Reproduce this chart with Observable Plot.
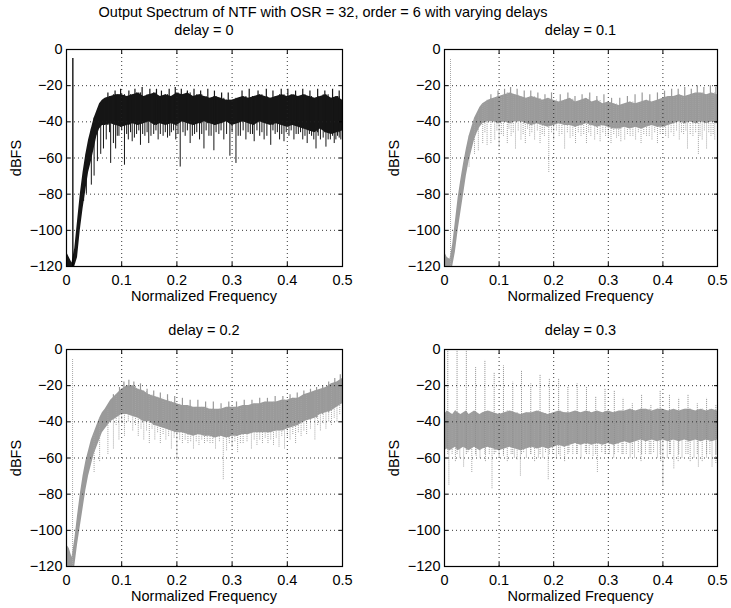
<!DOCTYPE html>
<html>
<head>
<meta charset="utf-8">
<script src="https://cdn.jsdelivr.net/npm/d3@7"></script>
<script src="https://cdn.jsdelivr.net/npm/@observablehq/plot@0.6"></script>
<style>
  html, body { margin: 0; padding: 0; background: #fff; }
  #wrap { position: relative; width: 731px; height: 608px; overflow: hidden; font-family: "Liberation Sans", Arial, sans-serif; color: #000; }
  .txt { position: absolute; white-space: nowrap; font-size: 14.5px; line-height: 16px; transform: translate(-50%, -50%); }
  .ttl { position: absolute; white-space: nowrap; font-size: 14.5px; line-height: 16px; transform: translate(-50%, -50%); }
  .ylab { position: absolute; white-space: nowrap; font-size: 14.5px; line-height: 16px; transform: translate(-50%, -50%) rotate(-90deg); }
  .panel { position: absolute; }
</style>
</head>
<body>
<div id="wrap"></div>
<script>
// ---------- data ----------
const mainTitle = "Output Spectrum of NTF with OSR = 32, order = 6 with varying delays";
const panelTitles = ["delay = 0", "delay = 0.1", "delay = 0.2", "delay = 0.3"];
const xLabel = "Normalized Frequency";
const yLabel = "dBFS";
const xTicks = [0, 0.1, 0.2, 0.3, 0.4, 0.5];
const yTicks = [-120, -100, -80, -60, -40, -20, 0];

const freq = [0, 0.005, 0.01, 0.015, 0.02, 0.025, 0.03, 0.035, 0.04, 0.045, 0.05, 0.055, 0.06, 0.065,
  0.07, 0.08, 0.09, 0.10, 0.11, 0.12, 0.13, 0.14, 0.15, 0.16, 0.17, 0.18, 0.19, 0.20, 0.21, 0.22, 0.23,
  0.24, 0.25, 0.26, 0.27, 0.28, 0.29, 0.30, 0.31, 0.32, 0.33, 0.34, 0.35, 0.36, 0.37, 0.38, 0.39, 0.40,
  0.41, 0.42, 0.43, 0.44, 0.45, 0.46, 0.47, 0.48, 0.49, 0.50];

// delay = 0
const top0 = [-112, -115, -118, -110, -95, -80, -68, -58, -50, -44, -38, -34, -30, -28,
  -27, -26, -25, -25, -26, -25, -24, -26, -25, -24, -26, -25, -26, -24, -25, -24, -26,
  -25, -26, -27, -26, -27, -28, -28, -27, -26, -27, -26, -25, -26, -27, -26, -25, -26,
  -25, -26, -25, -26, -27, -26, -25, -27, -26, -28];
const bot0 = [-120, -120, -120, -120, -115, -100, -88, -78, -68, -62, -55, -48, -44, -42,
  -42, -41, -42, -43, -42, -41, -42, -41, -40, -42, -41, -42, -41, -42, -40, -41, -42,
  -41, -40, -41, -42, -41, -40, -42, -41, -40, -41, -42, -40, -41, -42, -41, -42, -43,
  -42, -43, -44, -45, -46, -44, -46, -47, -46, -45];
const dipF0 = [0.031, 0.036, 0.045, 0.05, 0.056, 0.062, 0.067, 0.072, 0.08, 0.085, 0.089, 0.095, 0.105,
  0.112, 0.119, 0.127, 0.134, 0.142, 0.149, 0.158, 0.166, 0.175, 0.183, 0.19, 0.198, 0.206, 0.215,
  0.224, 0.232, 0.241, 0.249, 0.258, 0.267, 0.276, 0.285, 0.296, 0.307, 0.315, 0.325, 0.333, 0.34,
  0.35, 0.358, 0.37, 0.378, 0.386, 0.394, 0.403, 0.412, 0.42, 0.428, 0.436, 0.444, 0.452, 0.46,
  0.47, 0.478, 0.485, 0.491, 0.497,
  0.078, 0.092, 0.1, 0.109, 0.116, 0.123, 0.131, 0.138, 0.146, 0.153, 0.162, 0.17, 0.179, 0.187,
  0.194, 0.202, 0.211, 0.219, 0.228, 0.236, 0.245, 0.253, 0.262, 0.271, 0.28, 0.29, 0.3, 0.311,
  0.32, 0.329, 0.337, 0.345, 0.354, 0.363, 0.374, 0.382, 0.39, 0.398, 0.407, 0.416, 0.424, 0.432,
  0.44, 0.448, 0.456, 0.465, 0.474, 0.482, 0.488, 0.494];
const dipV0 = [-84, -80, -75, -70, -62, -58, -55, -50, -63, -52, -55, -48, -64,
  -50, -51, -47, -53, -48, -52, -47, -50, -48, -49, -46, -50, -65, -48,
  -52, -47, -50, -55, -48, -56, -47, -50, -59, -63, -48, -50, -47, -51,
  -48, -50, -53, -47, -50, -51, -48, -50, -47, -50, -52, -48, -55, -50,
  -54, -50, -52, -48, -50,
  -46, -48, -45, -47, -46, -49, -45, -47, -46, -48, -45, -47, -46, -48,
  -45, -47, -46, -45, -48, -46, -47, -45, -48, -46, -45, -47, -46, -48,
  -45, -46, -47, -45, -46, -48, -45, -46, -47, -46, -45, -47, -46, -48,
  -47, -50, -48, -49, -50, -48, -50, -49];
const peakF0 = [0.075, 0.088, 0.098, 0.113, 0.124, 0.137, 0.151, 0.163, 0.172, 0.186, 0.197, 0.208, 0.219,
  0.231, 0.243, 0.256, 0.268, 0.281, 0.293, 0.318, 0.331, 0.347, 0.362, 0.374, 0.389, 0.401, 0.415,
  0.428, 0.441, 0.455, 0.468, 0.482, 0.494];
const peakV0 = [-24, -23, -22, -23, -22, -21, -22, -22, -23, -22, -21, -22, -23,
  -22, -23, -22, -23, -24, -24, -23, -22, -23, -22, -23, -22, -22, -23,
  -22, -23, -22, -23, -22, -23];

// delay = 0.1
const top1 = [-112, -115, -116, -108, -95, -82, -72, -63, -55, -48, -43, -38, -35, -32,
  -30, -28, -27, -26, -25, -24, -25, -26, -27, -26, -27, -28, -27, -28, -29, -28, -27,
  -29, -28, -27, -29, -28, -30, -29, -30, -31, -30, -29, -30, -29, -28, -29, -28, -27,
  -26, -26, -25, -26, -25, -24, -24, -25, -24, -25];
const bot1 = [-120, -120, -120, -120, -112, -100, -90, -80, -70, -62, -56, -50, -46, -43,
  -41, -40, -40, -41, -40, -41, -40, -40, -41, -42, -41, -42, -43, -42, -41, -42, -42,
  -43, -42, -41, -42, -43, -42, -43, -44, -44, -43, -44, -43, -44, -43, -42, -43, -43,
  -42, -41, -40, -41, -40, -41, -40, -41, -40, -41];
const dipF1 = [0.045, 0.055, 0.062, 0.07, 0.078, 0.085, 0.092, 0.1, 0.108, 0.115, 0.122, 0.13, 0.14,
  0.148, 0.156, 0.165, 0.175, 0.183, 0.191, 0.2, 0.21, 0.22, 0.23, 0.24, 0.25, 0.26, 0.268, 0.275,
  0.285, 0.295, 0.305, 0.315, 0.323, 0.33, 0.34, 0.35, 0.36, 0.37, 0.38, 0.39, 0.4, 0.41, 0.42,
  0.43, 0.438, 0.445, 0.455, 0.465, 0.472, 0.48, 0.488, 0.495,
  0.074, 0.096, 0.104, 0.118, 0.126, 0.135, 0.144, 0.152, 0.16, 0.17, 0.179, 0.196, 0.205, 0.215,
  0.225, 0.235, 0.245, 0.255, 0.264, 0.28, 0.29, 0.3, 0.31, 0.319, 0.335, 0.345, 0.355, 0.365,
  0.375, 0.385, 0.395, 0.405, 0.415, 0.425, 0.434, 0.442, 0.45, 0.46, 0.468, 0.476, 0.484, 0.492];
const dipV1 = [-65, -58, -56, -52, -53, -52, -50, -54, -48, -52, -48, -55, -50,
  -52, -48, -50, -52, -48, -68, -50, -48, -55, -49, -52, -48, -52, -48, -50,
  -51, -48, -52, -49, -51, -50, -48, -50, -52, -48, -50, -52, -47, -49, -48,
  -50, -47, -55, -48, -58, -50, -55, -48, -50,
  -46, -45, -47, -44, -46, -45, -47, -44, -46, -45, -47, -46, -45, -47,
  -46, -48, -46, -47, -46, -47, -46, -48, -47, -48, -47, -48, -46, -47,
  -48, -46, -47, -48, -46, -45, -46, -45, -47, -46, -48, -45, -46, -47];
const peakF1 = [0.085, 0.098, 0.11, 0.121, 0.133, 0.146, 0.158, 0.171, 0.184, 0.196, 0.212, 0.226, 0.239,
  0.252, 0.266, 0.279, 0.292, 0.306, 0.321, 0.335, 0.349, 0.362, 0.376, 0.39, 0.403, 0.416, 0.428,
  0.44, 0.452, 0.463, 0.475, 0.487, 0.497];
const peakV1 = [-25, -23, -22, -21, -22, -23, -23, -24, -25, -24, -25, -24, -26,
  -25, -24, -26, -25, -27, -27, -26, -25, -24, -25, -24, -23, -22, -22,
  -21, -22, -20, -21, -20, -21];

// delay = 0.2
const top2 = [-108, -110, -115, -105, -92, -80, -70, -62, -56, -50, -46, -42, -38, -35,
  -33, -28, -25, -22, -20, -20, -22, -23, -25, -26, -27, -28, -29, -30, -31, -31, -32,
  -32, -32, -33, -33, -33, -32, -32, -32, -31, -31, -30, -30, -29, -29, -29, -28, -28,
  -27, -27, -25, -24, -23, -22, -21, -19, -18, -16];
const bot2 = [-120, -120, -120, -120, -108, -98, -88, -78, -70, -64, -58, -54, -50, -46,
  -44, -40, -38, -36, -36, -37, -38, -40, -40, -42, -43, -44, -45, -46, -46, -47, -48,
  -47, -48, -48, -49, -48, -49, -48, -48, -47, -47, -46, -46, -46, -46, -45, -45, -44,
  -43, -42, -40, -39, -38, -36, -35, -34, -32, -30];
const dipF2 = [0.05, 0.06, 0.075, 0.085, 0.095, 0.105, 0.12, 0.13, 0.14, 0.15, 0.16, 0.17, 0.18,
  0.19, 0.2, 0.21, 0.22, 0.23, 0.24, 0.25, 0.26, 0.27, 0.284, 0.29, 0.3, 0.31, 0.32, 0.335,
  0.345, 0.355, 0.365, 0.375, 0.385, 0.395, 0.405, 0.415, 0.425, 0.435, 0.45, 0.46, 0.47,
  0.48, 0.49,
  0.09, 0.1, 0.112, 0.125, 0.135, 0.145, 0.155, 0.165, 0.175, 0.185, 0.195, 0.205, 0.215, 0.225,
  0.235, 0.245, 0.255, 0.265, 0.277, 0.295, 0.305, 0.315, 0.327, 0.34, 0.35, 0.36, 0.37, 0.38,
  0.39, 0.4, 0.41, 0.42, 0.43, 0.442, 0.455, 0.465, 0.475, 0.485, 0.495];
const dipV2 = [-68, -62, -58, -55, -50, -48, -45, -48, -50, -52, -50, -52, -50,
  -55, -61, -52, -52, -55, -53, -52, -52, -55, -72, -56, -54, -57, -52, -55,
  -53, -52, -52, -53, -54, -55, -50, -52, -48, -47, -50, -45, -44,
  -42, -40,
  -42, -41, -40, -42, -44, -45, -44, -46, -47, -48, -49, -50, -50, -51,
  -51, -50, -51, -52, -51, -52, -51, -52, -51, -50, -50, -49, -50, -49,
  -48, -48, -47, -46, -45, -44, -42, -41, -40, -38, -36];
const peakF2 = [0.085, 0.096, 0.104, 0.113, 0.122, 0.134, 0.146, 0.158, 0.17, 0.183, 0.196, 0.21, 0.224,
  0.238, 0.252, 0.266, 0.28, 0.294, 0.308, 0.322, 0.336, 0.35, 0.364, 0.378, 0.392, 0.405, 0.418,
  0.43, 0.442, 0.453, 0.464, 0.475, 0.486, 0.496];
const peakV2 = [-25, -21, -18, -17, -18, -19, -22, -23, -24, -25, -26, -27, -28,
  -28, -29, -29, -30, -29, -29, -28, -28, -27, -27, -26, -26, -25, -24,
  -23, -22, -21, -20, -18, -16, -14];

// delay = 0.3
const top3 = [-36, -34, -35, -36, -34, -35, -36, -35, -34, -36, -35, -34, -35, -36,
  -35, -34, -35, -36, -35, -34, -35, -36, -35, -35, -34, -35, -36, -35, -34, -35, -35,
  -34, -35, -34, -35, -34, -35, -34, -35, -34, -34, -33, -34, -33, -33, -34, -33, -33,
  -34, -33, -34, -33, -33, -34, -33, -34, -33, -34];
const bot3 = [-56, -55, -56, -55, -54, -56, -55, -54, -55, -56, -55, -54, -55, -56,
  -55, -54, -55, -56, -55, -54, -55, -56, -55, -54, -55, -54, -55, -54, -53, -54, -53,
  -52, -53, -52, -53, -52, -53, -52, -53, -52, -51, -52, -51, -50, -51, -50, -51, -50,
  -51, -50, -51, -50, -51, -50, -51, -50, -51, -50];
const dipF3 = [0.008, 0.02, 0.035, 0.05, 0.065, 0.075, 0.087, 0.1, 0.115, 0.128, 0.139, 0.15, 0.165,
  0.18, 0.19, 0.205, 0.22, 0.235, 0.25, 0.265, 0.28, 0.295, 0.31, 0.325, 0.34, 0.36, 0.375,
  0.39, 0.4, 0.42, 0.435, 0.45, 0.465, 0.48, 0.49,
  0.014, 0.028, 0.043, 0.058, 0.082, 0.094, 0.108, 0.122, 0.133, 0.145, 0.158, 0.172, 0.185, 0.198,
  0.212, 0.228, 0.242, 0.258, 0.272, 0.288, 0.302, 0.318, 0.333, 0.348, 0.355, 0.368, 0.383,
  0.396, 0.408, 0.414, 0.428, 0.442, 0.457, 0.472, 0.486, 0.497];
const dipV3 = [-75, -62, -65, -68, -60, -62, -77, -60, -62, -60, -70, -60, -62,
  -60, -72, -60, -62, -58, -60, -58, -68, -58, -60, -58, -60, -62, -58,
  -60, -75, -66, -60, -62, -65, -60, -65,
  -58, -60, -57, -59, -58, -57, -59, -58, -61, -57, -58, -60, -57, -58,
  -59, -57, -58, -57, -59, -57, -58, -57, -58, -60, -57, -58, -57,
  -62, -60, -58, -62, -58, -60, -62, -58, -63];
const spikeF3 = [0.006, 0.023, 0.040, 0.057, 0.074, 0.091, 0.108, 0.125, 0.141, 0.158, 0.175, 0.192,
  0.209, 0.226, 0.243, 0.260, 0.277, 0.294, 0.311, 0.327, 0.344, 0.361, 0.378, 0.395, 0.412, 0.429,
  0.446, 0.463, 0.480, 0.497];
const spikeV3 = [-1, -1, -1, -10, -6, -13, -9, -18, -12, -19, -14, -16,
  -16, -21, -19, -21, -26, -22, -23, -27, -30, -25, -31, -23, -25, -27,
  -25, -30, -27, -31];
const peakF3 = [];
const peakV3 = [];

// signal tone (panels 0..2)
const toneFreq = [0.0115, 0.011, 0.011];
const toneLevel = [-5, -5, -5];

// ---------- drawing ----------
const FONT = '"Liberation Sans", Arial, sans-serif';
const wrap = document.getElementById("wrap");

function addText(cls, text, x, y) {
  const d = document.createElement("div");
  d.className = cls;
  d.textContent = text;
  d.style.left = x + "px";
  d.style.top = y + "px";
  wrap.appendChild(d);
}

const panels = [
  {top: top0, bot: bot0, dipF: dipF0, dipV: dipV0, peakF: peakF0, peakV: peakV0, fill: "#161616", dip: "#161616", dash: null, tone: 0, left: 0, y: 38, ml: 66, mr: 23},
  {top: top1, bot: bot1, dipF: dipF1, dipV: dipV1, peakF: peakF1, peakV: peakV1, fill: "#9a9a9a", dip: "#a4a4a4", dash: "1,1", tone: 1, left: 365, y: 38, ml: 79, mr: 14},
  {top: top2, bot: bot2, dipF: dipF2, dipV: dipV2, peakF: peakF2, peakV: peakV2, fill: "#9a9a9a", dip: "#a4a4a4", dash: "1,1", tone: 2, left: 0, y: 338, ml: 66, mr: 23},
  {top: top3, bot: bot3, dipF: dipF3, dipV: dipV3, peakF: peakF3, peakV: peakV3, fill: "#9c9c9c", dip: "#a4a4a4", dash: "1,1", tone: null, left: 365, y: 338, ml: 79, mr: 14, spikes: true}
];

panels.forEach((p, i) => {
  const rows = freq.map((f, k) => ({f, top: p.top[k], bot: p.bot[k]}));
  const nearest = f => {
    let best = 0;
    freq.forEach((g, k) => { if (Math.abs(g - f) < Math.abs(freq[best] - f)) best = k; });
    return best;
  };
  const dips = p.dipF.map((f, k) => ({f, v: p.dipV[k], t: p.top[nearest(f)]}));
  const peaks = p.peakF.map((f, k) => ({f, v: p.peakV[k], b: p.bot[nearest(f)]}));
  const W = i % 2 === 0 ? 365 : 366;
  const H = 270;
  const marks = [
    Plot.areaY(rows, {x: "f", y1: "bot", y2: "top", fill: p.fill, curve: "linear"}),
    Plot.ruleX(dips, {x: "f", y1: "v", y2: "t", stroke: p.dip, strokeWidth: 1, strokeDasharray: p.dash}),
    Plot.ruleX(peaks, {x: "f", y1: "b", y2: "v", stroke: p.fill, strokeWidth: 1.2})
  ];
  if (p.tone !== null) {
    marks.push(Plot.ruleX([{f: toneFreq[p.tone], v: toneLevel[p.tone]}], {
      x: "f", y1: -120, y2: "v", stroke: i === 0 ? "#000" : "#a8a8a8", strokeWidth: i === 0 ? 1.3 : 1,
      strokeDasharray: i === 0 ? null : "1,1"}));
  }
  if (p.spikes) {
    const sp = spikeF3.map((f, k) => ({f, v: spikeV3[k]}));
    marks.push(Plot.ruleX(sp, {x: "f", y1: -58, y2: "v", stroke: "#8e8e8e", strokeWidth: 1, strokeDasharray: "1,1"}));
  }
  marks.push(
    Plot.gridX(xTicks.slice(1, -1), {stroke: "#222", strokeOpacity: 0.9, strokeDasharray: "1,3"}),
    Plot.gridY(yTicks.slice(1, -1), {stroke: "#222", strokeOpacity: 0.9, strokeDasharray: "1,3"}),
    Plot.axisX(xTicks, {anchor: "bottom", tickSize: -4, tickPadding: 12, label: null, tickFormat: d => String(d), fontSize: 14.5}),
    Plot.axisX(xTicks, {anchor: "top", tickSize: -4, label: null, tickFormat: () => ""}),
    Plot.axisY(yTicks, {anchor: "left", tickSize: -4, tickPadding: 8, label: null, fontSize: 14.5}),
    Plot.axisY(yTicks, {anchor: "right", tickSize: -4, label: null, tickFormat: () => ""}),
    Plot.frame({stroke: "#000", strokeWidth: 1.2})
  );
  const svg = Plot.plot({
    width: W, height: H,
    marginLeft: p.ml, marginRight: p.mr, marginTop: 11, marginBottom: 42,
    x: {domain: [0, 0.5]},
    y: {domain: [-120, 0]},
    style: {fontFamily: FONT, fontSize: "14.5px", color: "#000", background: "transparent", overflow: "visible"},
    marks
  });
  const holder = document.createElement("div");
  holder.className = "panel";
  holder.style.left = p.left + "px";
  holder.style.top = p.y + "px";
  holder.appendChild(svg);
  wrap.appendChild(holder);

  const cx = p.left + p.ml + (W - p.ml - p.mr) / 2;
  addText("txt", panelTitles[i], cx, p.y - 8);
  addText("txt", xLabel, cx, p.y + H - 12);
  addText("ylab", yLabel, p.left + (i % 2 === 0 ? 16 : 29), p.y + 11 + 109);
});

addText("ttl", mainTitle, 323, 12);
</script>
</body>
</html>
